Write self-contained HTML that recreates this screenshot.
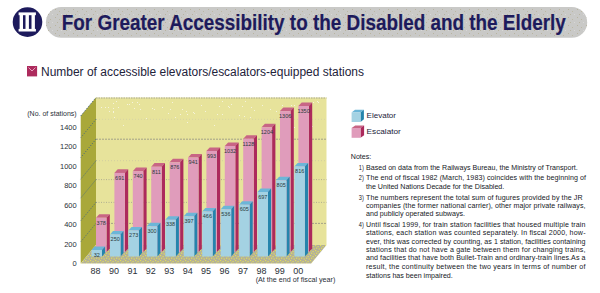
<!DOCTYPE html>
<html><head><meta charset="utf-8"><style>
html,body{margin:0;padding:0;background:#fff;width:600px;height:293px;overflow:hidden}
svg{display:block}
text{font-family:"Liberation Sans",sans-serif}
.tt{font-weight:bold;font-size:22px;fill:#1d1a5c;stroke:#1d1a5c;stroke-width:0.2px}
.st{font-size:12px;fill:#22223a}
.yl{font-size:7.5px;fill:#2a3038}
.xl{font-size:9px;fill:#2a3038}
.sm{font-size:7px;fill:#2a3038}
.lg{font-size:8px;fill:#22223a}
.nt{font-size:7.1px;fill:#15181e}
.bl{font-size:5.5px;fill:#2a3a3a}
</style></head><body>
<svg width="600" height="293" viewBox="0 0 600 293">
<defs>
<pattern id="sand" width="5" height="5" patternUnits="userSpaceOnUse">
<rect width="5" height="5" fill="#b2b09a"/>
<rect x="0" y="0" width="1.2" height="1.2" fill="#e4de58"/>
<rect x="2.5" y="1" width="1.2" height="1.2" fill="#e4de58"/>
<rect x="1" y="2.6" width="1.2" height="1.2" fill="#e4de58"/>
<rect x="3.6" y="3.4" width="1.2" height="1.2" fill="#e4de58"/>
</pattern>
<pattern id="speck" width="9" height="8" patternUnits="userSpaceOnUse">
<rect x="1" y="1" width="1" height="1" fill="#b8b4a0"/>
<rect x="5" y="3" width="1" height="1" fill="#bcb8a4"/>
<rect x="3" y="6" width="1" height="1" fill="#b8b4a0"/>
<rect x="7" y="6" width="1" height="1" fill="#d8d8d8"/>
</pattern>
</defs>
<rect x="45.9" y="7" width="541.3" height="30.8" rx="15.4" ry="15.4" fill="#c9c9c7"/><rect x="45.9" y="7" width="541.3" height="30.8" rx="15.4" ry="15.4" fill="url(#speck)"/><circle cx="27.5" cy="22.1" r="14.8" fill="#1d1a5c"/><rect x="18.6" y="12.4" width="17.3" height="2.8" fill="#fff"/><rect x="18.6" y="28.9" width="17.3" height="2.6" fill="#fff"/><rect x="19.6" y="14" width="3.4" height="15.5" fill="#fff"/><rect x="25.5" y="14" width="3.4" height="15.5" fill="#fff"/><rect x="31.5" y="14" width="3.4" height="15.5" fill="#fff"/><text x="61.8" y="29.7" textLength="504" lengthAdjust="spacingAndGlyphs" class="tt">For Greater Accessibility to the Disabled and the Elderly</text><rect x="27" y="66" width="10.1" height="10.4" fill="#ad2b5d"/><polyline points="28.5,67.5 32,71 35.5,67.5" fill="none" stroke="#e8a0c0" stroke-width="1"/><text x="41" y="76" textLength="323" lengthAdjust="spacingAndGlyphs" class="st">Number of accessible elevators/escalators-equipped stations</text>
<rect x="96" y="97.5" width="230.5" height="147.5" fill="#e7e39b"/><line x1="96" y1="98.0" x2="326.5" y2="98.0" stroke="#a8a890" stroke-width="1" stroke-dasharray="1.5 1"/><polygon points="80.7,116.0 96,97.5 96,245 80.7,263.5" fill="#a9a83a"/><line x1="80.7" y1="116.0" x2="96" y2="97.5" stroke="#3a5a80" stroke-width="0.8" stroke-dasharray="1.5 1.5"/><line x1="96" y1="119.3" x2="326.5" y2="119.3" stroke="#d6d3a6" stroke-width="0.9" stroke-dasharray="1 2"/><line x1="96" y1="119.3" x2="80.7" y2="137.8" stroke="#3a6088" stroke-width="0.9" stroke-dasharray="1 1.6"/><line x1="96" y1="139.2" x2="326.5" y2="139.2" stroke="#9c9a86" stroke-width="0.9" stroke-dasharray="2 1"/><line x1="96" y1="139.2" x2="80.7" y2="157.7" stroke="#3a6088" stroke-width="0.9" stroke-dasharray="1 1.6"/><line x1="96" y1="160.7" x2="326.5" y2="160.7" stroke="#cfcca2" stroke-width="0.9" stroke-dasharray="1 2"/><line x1="96" y1="160.7" x2="80.7" y2="179.2" stroke="#3a6088" stroke-width="0.9" stroke-dasharray="1 1.6"/><line x1="96" y1="179.6" x2="326.5" y2="179.6" stroke="#aaa890" stroke-width="0.9" stroke-dasharray="1 1.5"/><line x1="96" y1="179.6" x2="80.7" y2="198.1" stroke="#3a6088" stroke-width="0.9" stroke-dasharray="1 1.6"/><line x1="96" y1="202.4" x2="326.5" y2="202.4" stroke="#aaa890" stroke-width="0.9" stroke-dasharray="1 1.5"/><line x1="96" y1="202.4" x2="80.7" y2="220.9" stroke="#3a6088" stroke-width="0.9" stroke-dasharray="1 1.6"/><line x1="96" y1="223.4" x2="326.5" y2="223.4" stroke="#9c9a86" stroke-width="0.9" stroke-dasharray="2 1"/><line x1="96" y1="223.4" x2="80.7" y2="241.9" stroke="#3a6088" stroke-width="0.9" stroke-dasharray="1 1.6"/><rect x="172" y="102" width="1" height="1" fill="#f6f4dc"/><rect x="245" y="101" width="1" height="1" fill="#f6f4dc"/><rect x="219" y="106" width="1" height="1" fill="#f6f4dc"/><rect x="113" y="108" width="1" height="1" fill="#f6f4dc"/><rect x="108" y="107" width="1" height="1" fill="#f6f4dc"/><rect x="116" y="101" width="1" height="1" fill="#f6f4dc"/><rect x="194" y="113" width="1" height="1" fill="#f6f4dc"/><rect x="127" y="104" width="1" height="1" fill="#f6f4dc"/><rect x="239" y="115" width="1" height="1" fill="#f6f4dc"/><rect x="228" y="106" width="1" height="1" fill="#f6f4dc"/><rect x="317" y="101" width="1" height="1" fill="#f6f4dc"/><rect x="291" y="105" width="1" height="1" fill="#f6f4dc"/><rect x="132" y="102" width="1" height="1" fill="#f6f4dc"/><rect x="168" y="113" width="1" height="1" fill="#f6f4dc"/><rect x="140" y="109" width="1" height="1" fill="#f6f4dc"/><rect x="242" y="106" width="1" height="1" fill="#f6f4dc"/><rect x="222" y="101" width="1" height="1" fill="#f6f4dc"/><rect x="113" y="103" width="1" height="1" fill="#f6f4dc"/><rect x="251" y="107" width="1" height="1" fill="#f6f4dc"/><rect x="170" y="109" width="1" height="1" fill="#f6f4dc"/><rect x="201" y="105" width="1" height="1" fill="#f6f4dc"/><rect x="276" y="111" width="1" height="1" fill="#f6f4dc"/><rect x="154" y="109" width="1" height="1" fill="#f6f4dc"/><rect x="217" y="114" width="1" height="1" fill="#f6f4dc"/><rect x="262" y="105" width="1" height="1" fill="#f6f4dc"/><rect x="318" y="102" width="1" height="1" fill="#f6f4dc"/><rect x="193" y="112" width="1" height="1" fill="#f6f4dc"/><rect x="134" y="108" width="1" height="1" fill="#f6f4dc"/><rect x="109" y="111" width="1" height="1" fill="#f6f4dc"/><rect x="270" y="109" width="1" height="1" fill="#f6f4dc"/><rect x="294" y="105" width="1" height="1" fill="#f6f4dc"/><rect x="254" y="110" width="1" height="1" fill="#f6f4dc"/><rect x="229" y="107" width="1" height="1" fill="#f6f4dc"/><rect x="286" y="115" width="1" height="1" fill="#f6f4dc"/><rect x="205" y="111" width="1" height="1" fill="#f6f4dc"/><rect x="113" y="111" width="1" height="1" fill="#f6f4dc"/><rect x="244" y="116" width="1" height="1" fill="#f6f4dc"/><rect x="282" y="105" width="1" height="1" fill="#f6f4dc"/><rect x="186" y="111" width="1" height="1" fill="#f6f4dc"/><rect x="105" y="107" width="1" height="1" fill="#f6f4dc"/><rect x="137" y="102" width="1" height="1" fill="#f6f4dc"/><rect x="113" y="112" width="1" height="1" fill="#f6f4dc"/><rect x="129" y="104" width="1" height="1" fill="#f6f4dc"/><rect x="187" y="114" width="1" height="1" fill="#f6f4dc"/><rect x="118" y="107" width="1" height="1" fill="#f6f4dc"/><rect x="222" y="114" width="1" height="1" fill="#f6f4dc"/><rect x="282" y="114" width="1" height="1" fill="#f6f4dc"/><rect x="162" y="107" width="1" height="1" fill="#f6f4dc"/><rect x="180" y="114" width="1" height="1" fill="#f6f4dc"/><rect x="313" y="102" width="1" height="1" fill="#f6f4dc"/><rect x="139" y="104" width="1" height="1" fill="#f6f4dc"/><rect x="152" y="108" width="1" height="1" fill="#f6f4dc"/><rect x="231" y="104" width="1" height="1" fill="#f6f4dc"/><rect x="101" y="107" width="1" height="1" fill="#f6f4dc"/><rect x="182" y="109" width="1" height="1" fill="#f6f4dc"/><rect x="312" y="126" width="1" height="1" fill="#f6f4dc"/><rect x="214" y="125" width="1" height="1" fill="#f6f4dc"/><rect x="250" y="117" width="1" height="1" fill="#f6f4dc"/><rect x="300" y="127" width="1" height="1" fill="#f6f4dc"/><rect x="294" y="127" width="1" height="1" fill="#f6f4dc"/><rect x="187" y="122" width="1" height="1" fill="#f6f4dc"/><rect x="123" y="125" width="1" height="1" fill="#f6f4dc"/><rect x="114" y="117" width="1" height="1" fill="#f6f4dc"/><rect x="146" y="118" width="1" height="1" fill="#f6f4dc"/><rect x="175" y="117" width="1" height="1" fill="#f6f4dc"/><polygon points="80.7,263.5 96,245 326.5,245 311.2,263.5" fill="url(#sand)"/><polygon points="96.0,217.8 99.3,214.2 109.8,214.2 106.5,217.8" fill="#c86585"/><polygon points="106.5,217.8 109.8,214.2 109.8,248.4 106.5,252.0" fill="#ac2a5c"/><rect x="96.0" y="217.8" width="10.5" height="34.2" fill="#e09cbb"/><polygon points="114.4,172.9 117.7,169.3 128.2,169.3 124.9,172.9" fill="#c86585"/><polygon points="124.9,172.9 128.2,169.3 128.2,248.4 124.9,252.0" fill="#ac2a5c"/><rect x="114.4" y="172.9" width="10.5" height="79.1" fill="#e09cbb"/><polygon points="132.8,171.2 136.1,167.6 146.6,167.6 143.3,171.2" fill="#c86585"/><polygon points="143.3,171.2 146.6,167.6 146.6,248.4 143.3,252.0" fill="#ac2a5c"/><rect x="132.8" y="171.2" width="10.5" height="80.8" fill="#e09cbb"/><polygon points="151.2,166.7 154.5,163.1 165.0,163.1 161.7,166.7" fill="#c86585"/><polygon points="161.7,166.7 165.0,163.1 165.0,248.4 161.7,252.0" fill="#ac2a5c"/><rect x="151.2" y="166.7" width="10.5" height="85.3" fill="#e09cbb"/><polygon points="169.6,162.3 172.9,158.7 183.4,158.7 180.1,162.3" fill="#c86585"/><polygon points="180.1,162.3 183.4,158.7 183.4,248.4 180.1,252.0" fill="#ac2a5c"/><rect x="169.6" y="162.3" width="10.5" height="89.7" fill="#e09cbb"/><polygon points="188.0,157.5 191.3,153.9 201.8,153.9 198.5,157.5" fill="#c86585"/><polygon points="198.5,157.5 201.8,153.9 201.8,248.4 198.5,252.0" fill="#ac2a5c"/><rect x="188.0" y="157.5" width="10.5" height="94.5" fill="#e09cbb"/><polygon points="206.4,151.0 209.7,147.4 220.2,147.4 216.9,151.0" fill="#c86585"/><polygon points="216.9,151.0 220.2,147.4 220.2,248.4 216.9,252.0" fill="#ac2a5c"/><rect x="206.4" y="151.0" width="10.5" height="101.0" fill="#e09cbb"/><polygon points="224.8,146.0 228.1,142.4 238.6,142.4 235.3,146.0" fill="#c86585"/><polygon points="235.3,146.0 238.6,142.4 238.6,248.4 235.3,252.0" fill="#ac2a5c"/><rect x="224.8" y="146.0" width="10.5" height="106.0" fill="#e09cbb"/><polygon points="243.2,138.8 246.5,135.2 257.0,135.2 253.7,138.8" fill="#c86585"/><polygon points="253.7,138.8 257.0,135.2 257.0,248.4 253.7,252.0" fill="#ac2a5c"/><rect x="243.2" y="138.8" width="10.5" height="113.2" fill="#e09cbb"/><polygon points="261.6,127.3 264.9,123.7 275.4,123.7 272.1,127.3" fill="#c86585"/><polygon points="272.1,127.3 275.4,123.7 275.4,248.4 272.1,252.0" fill="#ac2a5c"/><rect x="261.6" y="127.3" width="10.5" height="124.7" fill="#e09cbb"/><polygon points="280.0,111.1 283.3,107.5 293.8,107.5 290.5,111.1" fill="#c86585"/><polygon points="290.5,111.1 293.8,107.5 293.8,248.4 290.5,252.0" fill="#ac2a5c"/><rect x="280.0" y="111.1" width="10.5" height="140.9" fill="#e09cbb"/><polygon points="298.4,106.0 301.7,102.4 312.2,102.4 308.9,106.0" fill="#c86585"/><polygon points="308.9,106.0 312.2,102.4 312.2,248.4 308.9,252.0" fill="#ac2a5c"/><rect x="298.4" y="106.0" width="10.5" height="146.0" fill="#e09cbb"/><text x="101.2" y="224.6" text-anchor="middle" class="bl">378</text><text x="119.7" y="179.7" text-anchor="middle" class="bl">691</text><text x="138.1" y="178.0" text-anchor="middle" class="bl">740</text><text x="156.4" y="173.5" text-anchor="middle" class="bl">811</text><text x="174.8" y="169.1" text-anchor="middle" class="bl">876</text><text x="193.2" y="164.3" text-anchor="middle" class="bl">941</text><text x="211.6" y="157.8" text-anchor="middle" class="bl">993</text><text x="230.0" y="152.8" text-anchor="middle" class="bl">1032</text><text x="248.4" y="145.6" text-anchor="middle" class="bl">1128</text><text x="266.9" y="134.1" text-anchor="middle" class="bl">1204</text><text x="285.2" y="117.9" text-anchor="middle" class="bl">1306</text><text x="303.6" y="112.8" text-anchor="middle" class="bl">1350</text><polygon points="91.5,250.0 94.6,246.5 105.1,246.5 102.0,250.0" fill="#6cb6d8"/><polygon points="102.0,250.0 105.1,246.5 105.1,253.0 102.0,256.5" fill="#2584ac"/><rect x="91.5" y="250.0" width="10.5" height="6.5" fill="#a4d2e3"/><text x="96.8" y="256.6" text-anchor="middle" class="bl">32</text><polygon points="110.0,234.4 113.0,230.9 123.5,230.9 120.5,234.4" fill="#6cb6d8"/><polygon points="120.5,234.4 123.5,230.9 123.5,253.0 120.5,256.5" fill="#2584ac"/><rect x="110.0" y="234.4" width="10.5" height="22.1" fill="#a4d2e3"/><text x="115.2" y="241.0" text-anchor="middle" class="bl">250</text><polygon points="128.4,230.4 131.5,226.9 142.0,226.9 138.9,230.4" fill="#6cb6d8"/><polygon points="138.9,230.4 142.0,226.9 142.0,253.0 138.9,256.5" fill="#2584ac"/><rect x="128.4" y="230.4" width="10.5" height="26.1" fill="#a4d2e3"/><text x="133.7" y="237.0" text-anchor="middle" class="bl">273</text><polygon points="146.8,226.3 149.9,222.8 160.4,222.8 157.3,226.3" fill="#6cb6d8"/><polygon points="157.3,226.3 160.4,222.8 160.4,253.0 157.3,256.5" fill="#2584ac"/><rect x="146.8" y="226.3" width="10.5" height="30.2" fill="#a4d2e3"/><text x="152.1" y="232.9" text-anchor="middle" class="bl">300</text><polygon points="165.3,219.8 168.4,216.3 178.9,216.3 175.8,219.8" fill="#6cb6d8"/><polygon points="175.8,219.8 178.9,216.3 178.9,253.0 175.8,256.5" fill="#2584ac"/><rect x="165.3" y="219.8" width="10.5" height="36.7" fill="#a4d2e3"/><text x="170.6" y="226.4" text-anchor="middle" class="bl">338</text><polygon points="183.8,216.3 186.8,212.8 197.3,212.8 194.2,216.3" fill="#6cb6d8"/><polygon points="194.2,216.3 197.3,212.8 197.3,253.0 194.2,256.5" fill="#2584ac"/><rect x="183.8" y="216.3" width="10.5" height="40.2" fill="#a4d2e3"/><text x="189.0" y="222.9" text-anchor="middle" class="bl">397</text><polygon points="202.2,211.5 205.3,208.0 215.8,208.0 212.7,211.5" fill="#6cb6d8"/><polygon points="212.7,211.5 215.8,208.0 215.8,253.0 212.7,256.5" fill="#2584ac"/><rect x="202.2" y="211.5" width="10.5" height="45.0" fill="#a4d2e3"/><text x="207.4" y="218.1" text-anchor="middle" class="bl">466</text><polygon points="220.7,209.3 223.8,205.8 234.2,205.8 231.2,209.3" fill="#6cb6d8"/><polygon points="231.2,209.3 234.2,205.8 234.2,253.0 231.2,256.5" fill="#2584ac"/><rect x="220.7" y="209.3" width="10.5" height="47.2" fill="#a4d2e3"/><text x="225.9" y="215.9" text-anchor="middle" class="bl">536</text><polygon points="239.1,204.7 242.2,201.2 252.7,201.2 249.6,204.7" fill="#6cb6d8"/><polygon points="249.6,204.7 252.7,201.2 252.7,253.0 249.6,256.5" fill="#2584ac"/><rect x="239.1" y="204.7" width="10.5" height="51.8" fill="#a4d2e3"/><text x="244.3" y="211.3" text-anchor="middle" class="bl">605</text><polygon points="257.5,192.0 260.6,188.5 271.1,188.5 268.0,192.0" fill="#6cb6d8"/><polygon points="268.0,192.0 271.1,188.5 271.1,253.0 268.0,256.5" fill="#2584ac"/><rect x="257.5" y="192.0" width="10.5" height="64.5" fill="#a4d2e3"/><text x="262.8" y="198.6" text-anchor="middle" class="bl">697</text><polygon points="276.0,180.3 279.1,176.8 289.6,176.8 286.5,180.3" fill="#6cb6d8"/><polygon points="286.5,180.3 289.6,176.8 289.6,253.0 286.5,256.5" fill="#2584ac"/><rect x="276.0" y="180.3" width="10.5" height="76.2" fill="#a4d2e3"/><text x="281.2" y="186.9" text-anchor="middle" class="bl">805</text><polygon points="294.4,166.4 297.6,162.9 308.1,162.9 304.9,166.4" fill="#6cb6d8"/><polygon points="304.9,166.4 308.1,162.9 308.1,253.0 304.9,256.5" fill="#2584ac"/><rect x="294.4" y="166.4" width="10.5" height="90.1" fill="#a4d2e3"/><text x="299.7" y="173.0" text-anchor="middle" class="bl">816</text><text x="76.7" y="265.9" text-anchor="end" class="yl">0</text><text x="76.7" y="246.5" text-anchor="end" class="yl">200</text><text x="76.7" y="227.0" text-anchor="end" class="yl">400</text><text x="76.7" y="207.6" text-anchor="end" class="yl">600</text><text x="76.7" y="188.1" text-anchor="end" class="yl">800</text><text x="76.7" y="168.7" text-anchor="end" class="yl">1000</text><text x="76.7" y="149.3" text-anchor="end" class="yl">1200</text><text x="76.7" y="129.8" text-anchor="end" class="yl">1400</text><text x="76.7" y="116.3" text-anchor="end" class="sm">(No. of stations)</text><text x="95.5" y="273.7" text-anchor="middle" class="xl">88</text><text x="113.9" y="273.7" text-anchor="middle" class="xl">90</text><text x="132.4" y="273.7" text-anchor="middle" class="xl">91</text><text x="150.8" y="273.7" text-anchor="middle" class="xl">92</text><text x="169.2" y="273.7" text-anchor="middle" class="xl">93</text><text x="187.7" y="273.7" text-anchor="middle" class="xl">94</text><text x="206.1" y="273.7" text-anchor="middle" class="xl">95</text><text x="224.5" y="273.7" text-anchor="middle" class="xl">96</text><text x="242.9" y="273.7" text-anchor="middle" class="xl">97</text><text x="261.4" y="273.7" text-anchor="middle" class="xl">98</text><text x="279.8" y="273.7" text-anchor="middle" class="xl">99</text><text x="298.2" y="273.7" text-anchor="middle" class="xl">00</text><text x="255.7" y="282" textLength="79.7" lengthAdjust="spacingAndGlyphs" class="sm">(At the end of fiscal year)</text><polygon points="351.6,112.5 355.0,109.8 363.9,109.8 360.5,112.5" fill="#6cb6d8"/><polygon points="360.5,112.5 363.9,109.8 363.9,119.3 360.5,122.0" fill="#2584ac"/><rect x="351.6" y="112.5" width="8.9" height="9.5" fill="#a4d2e3"/><polygon points="351.6,128.0 355.2,125.5 364.1,125.5 360.5,128.0" fill="#c86585"/><polygon points="360.5,128.0 364.1,125.5 364.1,135.3 360.5,137.8" fill="#ac2a5c"/><rect x="351.6" y="128.0" width="8.9" height="9.8" fill="#e09cbb"/><text x="366.6" y="118" textLength="29.4" lengthAdjust="spacingAndGlyphs" class="lg">Elevator</text><text x="366.6" y="133.7" textLength="34.2" lengthAdjust="spacingAndGlyphs" class="lg">Escalator</text><text x="350.8" y="158.7" class="nt">Notes:</text><text x="358.8" y="169.8" textLength="5" lengthAdjust="spacingAndGlyphs" class="nt">1)</text><text x="366" y="169.8" textLength="211.8" lengthAdjust="spacing" class="nt">Based on data from the Railways Bureau, the Ministry of Transport.</text><text x="358.8" y="180.3" textLength="5" lengthAdjust="spacingAndGlyphs" class="nt">2)</text><text x="366" y="180.3" textLength="220" lengthAdjust="spacing" class="nt">The end of fiscal 1982 (March, 1983) coincides with the beginning of</text><text x="366" y="188.5" textLength="138.3" lengthAdjust="spacing" class="nt">the United Nations Decade for the Disabled.</text><text x="358.8" y="199.75" textLength="5" lengthAdjust="spacingAndGlyphs" class="nt">3)</text><text x="366" y="199.75" textLength="216.5" lengthAdjust="spacing" class="nt">The numbers represent the total sum of fugures provided by the JR</text><text x="366" y="207.8" textLength="219.5" lengthAdjust="spacing" class="nt">companies (the former national carrier), other major private railways,</text><text x="366" y="216" class="nt">and publicly operated subways.</text><text x="358.8" y="226.8" textLength="5" lengthAdjust="spacingAndGlyphs" class="nt">4)</text><text x="366" y="226.8" textLength="219.5" lengthAdjust="spacing" class="nt">Until fiscal 1999, for train station facilities that housed multiple train</text><text x="366" y="235.4" textLength="219.5" lengthAdjust="spacing" class="nt">stations, each station was counted separately. In fiscal 2000, how-</text><text x="366" y="244.1" textLength="219.5" lengthAdjust="spacing" class="nt">ever, this was corrected by counting, as 1 station, facilities containing</text><text x="366" y="252.3" textLength="219.5" lengthAdjust="spacing" class="nt">stations that do not have a gate between them for changing trains,</text><text x="366" y="260.3" textLength="219.5" lengthAdjust="spacing" class="nt">and facilities that have both Bullet-Train and ordinary-train lines.As a</text><text x="366" y="269" textLength="219.5" lengthAdjust="spacing" class="nt">result, the continuity between the two years in terms of number of</text><text x="366" y="277.7" class="nt">stations has been impaired.</text>
</svg>
</body></html>
